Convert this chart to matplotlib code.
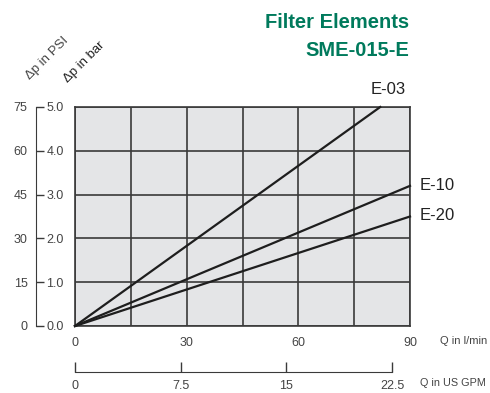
# plot.py
import numpy as np
import matplotlib.pyplot as plt

# -----------------------------
# data
# -----------------------------
q_e03 = [0, 82]
dp_e03 = [0.0, 5.0]
q_e10 = [0, 90]
dp_e10 = [0.0, 3.2]
q_e20 = [0, 90]
dp_e20 = [0.0, 2.5]

series = [("E-03", q_e03, dp_e03), ("E-10", q_e10, dp_e10), ("E-20", q_e20, dp_e20)]
label_pos = {"E-03": (388, 90), "E-10": (437, 186), "E-20": (437, 216)}

lmin_ticks = [0, 15, 30, 45, 60, 75, 90]
lmin_labels = ["0", "", "30", "", "60", "", "90"]
bar_ticks = [0, 1, 2, 3, 4, 5]
psi_ticks = [0, 15, 30, 45, 60, 75]
gpm_ticks = [0, 7.5, 15, 22.5]
gpm_labels = ["0", "7.5", "15", "22.5"]
LMIN_PER_GPM = 3.785

plt.rcParams['font.family'] = ['Liberation Sans', 'DejaVu Sans']
green = '#007a5c'
grey_txt = '#444444'
line_col = '#3a3a3a'

W, H = 490, 393
fig = plt.figure(figsize=(W / 100, H / 100), dpi=100)

def box(x0, y0, x1, y1):
    # pixel box (top-left origin) -> figure fraction rect
    return [x0 / W, 1 - y1 / H, (x1 - x0) / W, (y1 - y0) / H]

def fig_xy(x, y):
    return (x / W, 1 - y / H)

# -----------------------------
# main chart (l/min vs bar)
# -----------------------------
ax = fig.add_axes(box(75, 107, 410, 326))
ax.set_facecolor('#e4e5e7')
ax.set_xlim(0, 90)
ax.set_ylim(0, 5)
ax.set_xticks(lmin_ticks)
ax.set_xticklabels(lmin_labels)
ax.set_yticks(bar_ticks)
ax.set_yticklabels([f"{v:.1f}" for v in bar_ticks])
ax.tick_params(length=0, labelsize=9, colors=grey_txt)
ax.tick_params(axis='y', pad=8)
ax.tick_params(axis='x', pad=8)
ax.grid(True, color=line_col, linewidth=1.2)
ax.set_axisbelow(True)
for s in ax.spines.values():
    s.set_color(line_col)
    s.set_linewidth(1.2)

for name, q, dp in series:
    ax.plot(q, dp, color='#1e1e1e', linewidth=1.6, clip_on=False, zorder=3)
    ax.annotate(name, xy=fig_xy(*label_pos[name]), xycoords='figure fraction',
                ha='center', va='center', fontsize=12, color='#222222')

# -----------------------------
# PSI axis on the left
# -----------------------------
ax_psi = fig.add_axes(box(36, 107, 60, 326))
ax_psi.set_ylim(0, 75)
ax_psi.set_yticks(psi_ticks)
ax_psi.set_xticks([])
ax_psi.patch.set_visible(False)
for k in ['top', 'right', 'bottom']:
    ax_psi.spines[k].set_visible(False)
ax_psi.spines['left'].set_color(line_col)
ax_psi.tick_params(axis='y', direction='in', length=6, width=1.0,
                   labelsize=9, colors=line_col, labelcolor=grey_txt, pad=6)

# -----------------------------
# US GPM axis at the bottom
# -----------------------------
ax_gpm = fig.add_axes(box(75, 340, 410, 372))
ax_gpm.set_xlim(0, 90 / LMIN_PER_GPM)
ax_gpm.set_xticks(gpm_ticks)
ax_gpm.set_xticklabels(gpm_labels)
ax_gpm.set_yticks([])
ax_gpm.patch.set_visible(False)
for k in ['top', 'right', 'left']:
    ax_gpm.spines[k].set_visible(False)
ax_gpm.spines['bottom'].set_bounds(0, 22.5)
ax_gpm.spines['bottom'].set_color(line_col)
ax_gpm.tick_params(axis='x', direction='in', length=7, width=1.0,
                   labelsize=9, colors=line_col, labelcolor=grey_txt, pad=6)

# unit labels
fig.text(*fig_xy(440, 341), "Q in l/min", fontsize=8, color=grey_txt, va='center')
fig.text(*fig_xy(420, 383), "Q in US GPM", fontsize=7.8, color=grey_txt, va='center')
fig.text(*fig_xy(47, 58), "\u0394p in PSI", fontsize=9.5, color=grey_txt,
         rotation=45, ha='center', va='center')
fig.text(*fig_xy(84, 62), "\u0394p in bar", fontsize=9.5, color='#222222',
         rotation=45, ha='center', va='center')

# title
fig.text(*fig_xy(409, 23), "Filter Elements", fontsize=14.5, fontweight='bold',
         color=green, ha='right', va='center')
fig.text(*fig_xy(409, 50), "SME-015-E", fontsize=14.5, fontweight='bold',
         color=green, ha='right', va='center')

fig.savefig("out.png", dpi=100)
